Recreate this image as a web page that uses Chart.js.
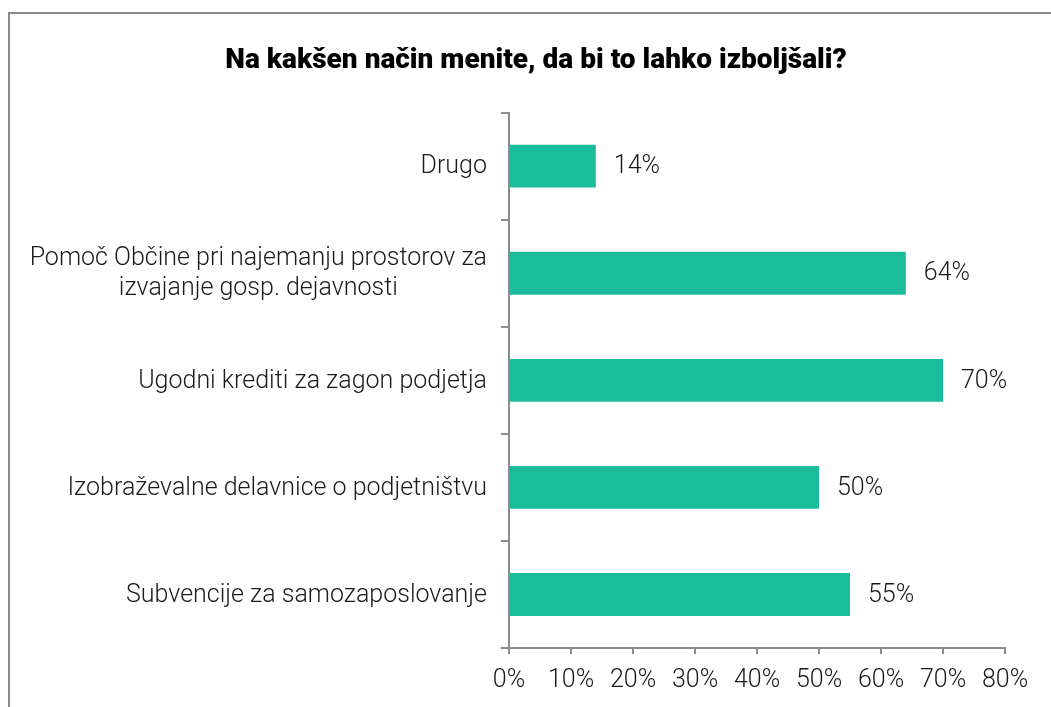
<!DOCTYPE html>
<html>
<head>
<meta charset="utf-8">
<script src="https://cdn.jsdelivr.net/npm/chart.js@4"></script>
<style>
  html, body { margin: 0; padding: 0; background: #fff; overflow: hidden; }
  #wrap { position: relative; width: 1051px; height: 707px; }
</style>
</head>
<body>
<div id="wrap"><canvas id="chart" width="1051" height="707"></canvas></div>
<script>
const chartTitle = 'Na kakšen način menite, da bi to lahko izboljšali?';

const categories = [
    'Drugo',
    ['Pomoč Občine pri najemanju prostorov za', 'izvajanje gosp. dejavnosti'],
    'Ugodni krediti za zagon podjetja',
    'Izobraževalne delavnice o podjetništvu',
    'Subvencije za samozaposlovanje'
];
const shares = [14, 64, 70, 50, 55];
const xTicks = [0, 10, 20, 30, 40, 50, 60, 70, 80];

const barColor = 'rgb(26, 188, 156)';
const axisColor = '#8c8c8c';
const labelFont = '300 25px Roboto';

// grey frame around the chart (right and bottom edges fall off the page)
const framePlugin = {
    id: 'frame',
    beforeDraw(chart) {
        const ctx = chart.ctx;
        ctx.save();
        ctx.strokeStyle = '#8c8c8c';
        ctx.lineWidth = 2;
        ctx.strokeRect(9, 13, 1200, 900);
        ctx.restore();
    }
};

// category labels: multi-line ones are centred in their block, like Excel does
const categoryLabelsPlugin = {
    id: 'categoryLabels',
    afterDraw(chart) {
        const ctx = chart.ctx;
        const yScale = chart.scales.y;
        const right = chart.chartArea.left - 22;
        ctx.save();
        ctx.font = labelFont;
        ctx.fillStyle = '#1a1a1a';
        ctx.textBaseline = 'middle';
        ctx.textAlign = 'center';
        categories.forEach((cat, i) => {
            const lines = Array.isArray(cat) ? cat : [cat];
            const w = Math.max(...lines.map(l => ctx.measureText(l).width));
            const cy = yScale.getPixelForValue(i) + 1;
            const lh = 30;
            lines.forEach((line, j) => {
                const y = cy + (j - (lines.length - 1) / 2) * lh;
                ctx.fillText(line, right - w / 2, y);
            });
        });
        ctx.restore();
    }
};

// value labels to the right of each bar
const valueLabelsPlugin = {
    id: 'valueLabels',
    afterDatasetsDraw(chart) {
        const ctx = chart.ctx;
        const meta = chart.getDatasetMeta(0);
        ctx.save();
        ctx.font = labelFont;
        ctx.fillStyle = '#1a1a1a';
        ctx.textBaseline = 'middle';
        ctx.textAlign = 'left';
        meta.data.forEach((bar, i) => {
            const p = bar.getProps(['x', 'y'], true);
            ctx.fillText(shares[i] + '%', p.x + 18, p.y + 1);
        });
        ctx.restore();
    }
};

const chart = new Chart(document.getElementById('chart').getContext('2d'), {
    type: 'bar',
    data: {
        labels: categories,
        datasets: [{
            data: shares,
            backgroundColor: barColor,
            barPercentage: 0.4,
            categoryPercentage: 1
        }]
    },
    options: {
        indexAxis: 'y',
        responsive: false,
        animation: false,
        layout: { padding: { left: 21, right: 0, top: 0, bottom: 0 } },
        plugins: {
            legend: { display: false },
            tooltip: { enabled: false },
            title: {
                display: true,
                text: chartTitle,
                color: '#000',
                font: { family: 'Roboto', size: 28, weight: '900' },
                padding: { top: 44, bottom: 35 }
            }
        },
        scales: {
            x: {
                min: 0,
                max: 80,
                afterBuildTicks(scale) {
                    scale.ticks = xTicks.map(v => ({ value: v }));
                },
                afterFit(scale) {
                    scale.height = 59;
                },
                border: { color: axisColor, width: 2 },
                grid: {
                    drawOnChartArea: false,
                    color: axisColor,
                    lineWidth: 2,
                    tickLength: 6
                },
                ticks: {
                    color: '#1a1a1a',
                    font: { family: 'Roboto', size: 25, weight: '300' },
                    padding: 12,
                    maxRotation: 0,
                    callback: v => v + '%'
                }
            },
            y: {
                afterFit(scale) {
                    scale.width = 509 - 21;
                },
                border: { color: axisColor, width: 2 },
                grid: {
                    offset: true,
                    drawOnChartArea: false,
                    color: axisColor,
                    lineWidth: 2,
                    tickLength: 8
                },
                ticks: { display: false }
            },
            // empty spacer on the right so the plot ends at 80% where the original does
            spacer: {
                type: 'linear',
                position: 'right',
                grid: { display: false },
                border: { display: false },
                ticks: { display: false },
                afterFit(scale) {
                    scale.width = 46;
                }
            }
        }
    },
    plugins: [framePlugin, categoryLabelsPlugin, valueLabelsPlugin]
});
</script>
</body>
</html>
